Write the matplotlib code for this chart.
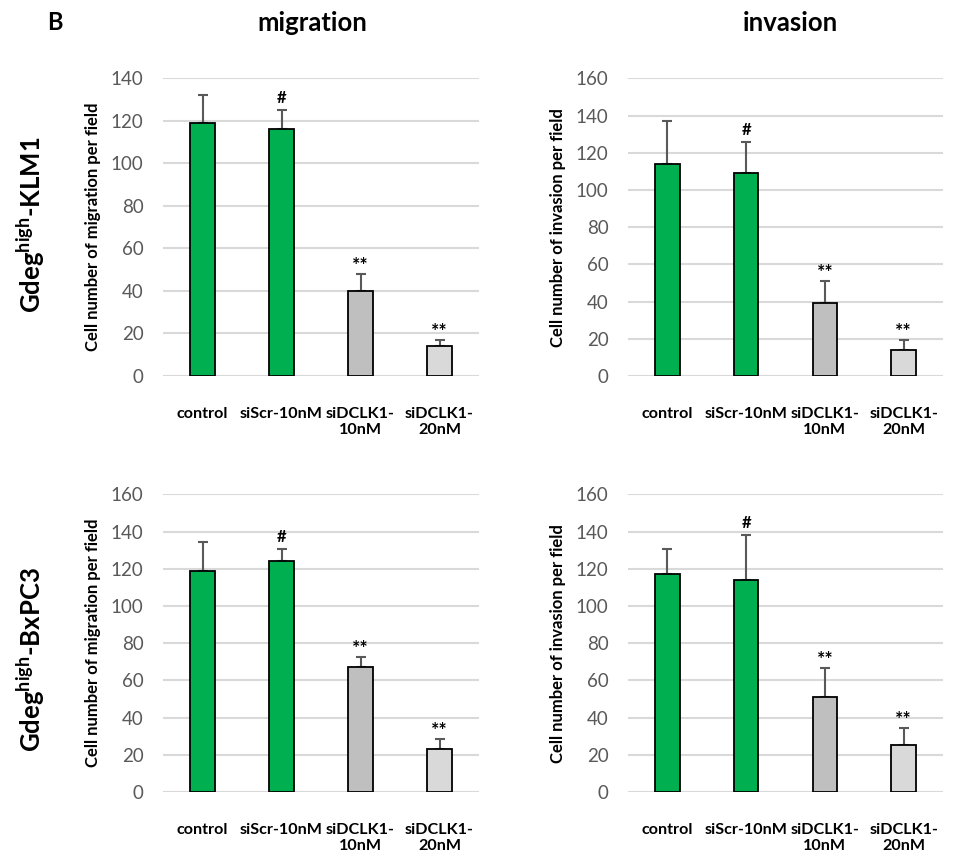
import matplotlib
matplotlib.use('Agg')
import matplotlib.pyplot as plt

plt.rcParams['font.family'] = ['Lato', 'DejaVu Sans']
plt.rcParams['mathtext.fontset'] = 'custom'
plt.rcParams['mathtext.bf'] = 'Lato:bold'
plt.rcParams['mathtext.rm'] = 'Lato'

# data
categories = ['control', 'siScr-10nM', 'siDCLK1-\n10nM', 'siDCLK1-\n20nM']
bar_colors = ['#00B050', '#00B050', '#BFBFBF', '#D9D9D9']
marks = ['', '#', '**', '**']

klm1_migration = [119, 116, 40, 14]
klm1_migration_err = [13, 9, 8, 3]
klm1_invasion = [114, 109, 39, 14]
klm1_invasion_err = [23, 16.5, 12, 5.5]

bxpc3_migration = [119, 124, 67, 23]
bxpc3_migration_err = [15.5, 6.5, 5.7, 5.4]
bxpc3_invasion = [117, 114, 51, 25]
bxpc3_invasion_err = [13.5, 24, 15.5, 9.5]

ymax_klm1_mig = 140
ymax_other = 160

fig = plt.figure(figsize=(9.54, 8.67), dpi=100)

W, H = 954, 867
def px_axes(x0, x1, ytop, ybot):
    return fig.add_axes([x0 / W, 1 - ybot / H, (x1 - x0) / W, (ybot - ytop) / H])

panels = [
    (px_axes(163, 479, 78.3, 376), klm1_migration, klm1_migration_err, ymax_klm1_mig,
     'Cell number of migration per field'),
    (px_axes(628, 943, 78.3, 376), klm1_invasion, klm1_invasion_err, ymax_other,
     'Cell number of invasion per field'),
    (px_axes(163, 479, 494.3, 792), bxpc3_migration, bxpc3_migration_err, ymax_other,
     'Cell number of migration per field'),
    (px_axes(628, 943, 494.3, 792), bxpc3_invasion, bxpc3_invasion_err, ymax_other,
     'Cell number of invasion per field'),
]

for ax, vals, errs, ymax, ylab in panels:
    x = range(len(categories))
    ax.bar(x, vals, width=0.31, color=bar_colors, edgecolor='black', linewidth=1.3, zorder=3)
    ax.errorbar(x, vals, yerr=[[0] * len(errs), errs], fmt='none', ecolor='#595959',
                elinewidth=1.5, capsize=3.5, capthick=1.5, zorder=2)
    for xi, v, e, m in zip(x, vals, errs, marks):
        if m:
            ax.annotate(m, (xi, v + e), xytext=(0, 3 if m == '#' else 0), textcoords='offset points',
                        ha='center', va='bottom', fontsize=12 if m == '#' else 14,
                        fontweight='bold', color='black')
    ax.set_xlim(-0.5, 3.5)
    ax.set_ylim(0, ymax)
    ax.set_yticks(range(0, ymax + 1, 20))
    ax.yaxis.grid(True, color='#D9D9D9', linewidth=1.5, zorder=0)
    ax.set_axisbelow(True)
    for s in ax.spines.values():
        s.set_visible(False)
    ax.tick_params(axis='y', length=0, labelsize=13.5, labelcolor='#595959', pad=14)
    ax.tick_params(axis='x', length=0, pad=22)
    ax.set_xticks(list(x))
    ax.set_xticklabels(categories, fontsize=11.6, fontweight='bold', linespacing=1.25)
    ax.set_ylabel(ylab, fontsize=12, fontweight='bold', labelpad=7)

fig.text(47 / W, 1 - 23 / H, 'B', fontsize=17, fontweight='bold', va='center', ha='left')
fig.text(312 / W, 1 - 23 / H, 'migration', fontsize=18.5, fontweight='bold', va='center', ha='center')
fig.text(790 / W, 1 - 23 / H, 'invasion', fontsize=18.5, fontweight='bold', va='center', ha='center')
fig.text(31 / W, 1 - 225 / H, r'Gdeg$^{\mathbf{high}}$-KLM1', fontsize=18.5, fontweight='bold',
         rotation=90, va='center', ha='center')
fig.text(31 / W, 1 - 660 / H, r'Gdeg$^{\mathbf{high}}$-BxPC3', fontsize=18.5, fontweight='bold',
         rotation=90, va='center', ha='center')

fig.savefig('out.png', dpi=100)
